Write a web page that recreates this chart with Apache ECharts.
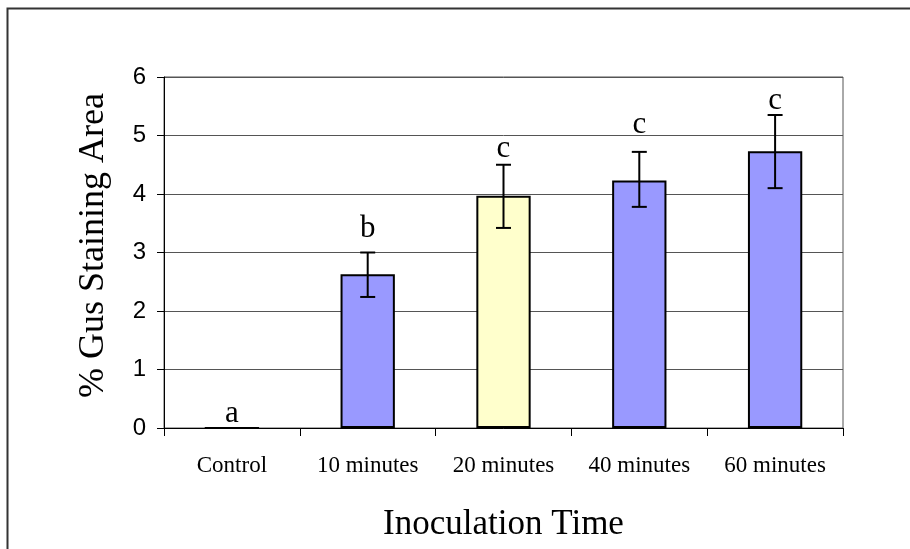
<!DOCTYPE html>
<html style="height: 100%">
<head>
<meta charset="utf-8">
<script src="https://cdn.jsdelivr.net/npm/echarts@6/dist/echarts.min.js"></script>
</head>
<body style="width:910px;height:549px;margin:0;background:#fff">
<div id="container" style="width:910px;height:549px;"></div>
<script type="text/javascript">
var categories = ['Control', '10 minutes', '20 minutes', '40 minutes', '60 minutes'];
var means = [0, 2.63, 3.97, 4.23, 4.73];
var errLow = [0, 2.24, 3.42, 3.78, 4.10];
var errHigh = [0, 3.00, 4.50, 4.72, 5.35];
var letters = ['a', 'b', 'c', 'c', 'c'];
var letterPos = [0.09, 3.26, 4.63, 5.04, 5.44];
var barColors = ['#9999ff', '#9999ff', '#ffffcc', '#9999ff', '#9999ff'];

var serif = '"Liberation Serif", "Times New Roman", serif';
var sans = '"Liberation Sans", Arial, sans-serif';
var letterSize = 31;

var dom = document.getElementById('container');
var myChart = echarts.init(dom);

var barData = means.map(function (v, i) {
    return { value: v, itemStyle: { color: barColors[i] } };
});
var errData = categories.map(function (c, i) {
    return [i, errLow[i], errHigh[i], letterPos[i]];
});

var option = {
    animation: false,
    backgroundColor: '#fff',
    graphic: [{
        type: 'rect',
        shape: { x: 7.5, y: 8.5, width: 1000, height: 1000 },
        style: { fill: 'none', stroke: '#333', lineWidth: 2 }
    }],
    grid: {
        left: 164, right: 67, top: 77, bottom: 121,
        show: true, borderColor: '#555', borderWidth: 1
    },
    xAxis: {
        type: 'category',
        data: categories,
        axisLine: { lineStyle: { color: '#000', width: 1 } },
        axisTick: { show: true, length: 8, lineStyle: { color: '#000' } },
        axisLabel: { color: '#000', fontFamily: serif, fontSize: 23, margin: 26 },
        name: 'Inoculation Time',
        nameLocation: 'middle',
        nameGap: 79,
        nameTextStyle: { color: '#000', fontFamily: serif, fontSize: 35 }
    },
    yAxis: {
        type: 'value',
        min: 0, max: 6, interval: 1,
        axisLine: { show: true, lineStyle: { color: '#000', width: 1 } },
        axisTick: { show: true, length: 7, lineStyle: { color: '#000' } },
        axisLabel: { color: '#000', fontFamily: sans, fontSize: 24, margin: 18 },
        splitLine: { lineStyle: { color: '#555', width: 1 } },
        name: '% Gus Staining Area',
        nameLocation: 'middle',
        nameGap: 52,
        nameTextStyle: { color: '#000', fontFamily: serif, fontSize: 36, padding: [0, 0, 0, 14] }
    },
    series: [{
        type: 'bar',
        data: barData,
        barWidth: '40%',
        itemStyle: { borderColor: '#000', borderWidth: 2 }
    }, {
        type: 'custom',
        data: errData,
        z: 10,
        renderItem: function (params, api) {
            var x = api.value(0);
            var lo = api.coord([x, api.value(1)]);
            var hi = api.coord([x, api.value(2)]);
            var lp = api.coord([x, api.value(3)]);
            var w = 7.5;
            var ls = { stroke: '#000', lineWidth: 2 };
            return {
                type: 'group',
                children: [
                    { type: 'line', shape: { x1: lo[0], y1: lo[1], x2: hi[0], y2: hi[1] }, style: ls },
                    { type: 'line', shape: { x1: lo[0] - w, y1: lo[1], x2: lo[0] + w, y2: lo[1] }, style: ls },
                    { type: 'line', shape: { x1: hi[0] - w, y1: hi[1], x2: hi[0] + w, y2: hi[1] }, style: ls },
                    { type: 'text', x: lp[0], y: lp[1] + letterSize * 0.22, style: {
                        text: letters[params.dataIndex], fill: '#000',
                        font: letterSize + 'px ' + serif, align: 'center', verticalAlign: 'bottom'
                    } }
                ]
            };
        }
    }]
};
myChart.setOption(option);
</script>
</body>
</html>
